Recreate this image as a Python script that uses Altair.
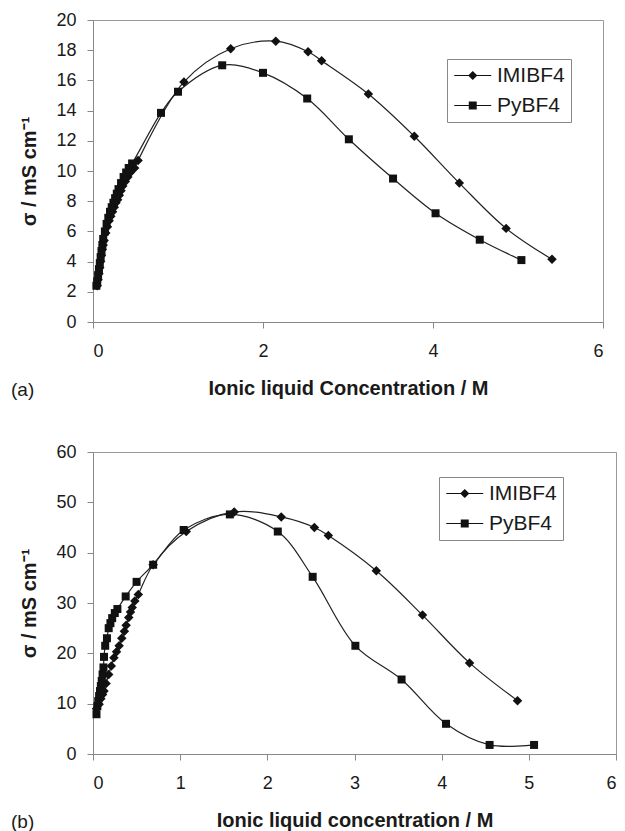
import altair as alt
import pandas as pd

FONT = "Liberation Sans"
INK = "#1a1a1a"
SERIES = ["IMIBF4", "PyBF4"]

# ---- panel (a) ----
a_imi_x = [0.05, 0.06, 0.07, 0.08, 0.09, 0.10, 0.11, 0.12, 0.13, 0.15, 0.17, 0.19, 0.21,
           0.23, 0.25, 0.27, 0.29, 0.31, 0.33, 0.35, 0.38, 0.41, 0.44, 0.49, 0.53,
           1.07, 1.62, 2.15, 2.53, 2.69, 3.24, 3.78, 4.31, 4.86, 5.40]
a_imi_y = [2.4, 2.8, 3.2, 3.6, 4.0, 4.4, 4.8, 5.1, 5.4, 5.9, 6.3, 6.7, 7.0,
           7.3, 7.6, 7.9, 8.1, 8.4, 8.7, 9.0, 9.3, 9.6, 9.9, 10.2, 10.7,
           15.9, 18.1, 18.6, 17.9, 17.3, 15.1, 12.3, 9.2, 6.2, 4.15]
a_py_x = [0.04, 0.05, 0.06, 0.07, 0.08, 0.09, 0.10, 0.11, 0.12, 0.14, 0.16, 0.18, 0.20,
          0.22, 0.24, 0.26, 0.28, 0.30, 0.33, 0.36, 0.39, 0.42, 0.46,
          0.80, 1.00, 1.52, 2.00, 2.52, 3.01, 3.53, 4.03, 4.55, 5.04]
a_py_y = [2.4, 2.7, 3.1, 3.5, 3.9, 4.3, 4.7, 5.1, 5.5, 6.0, 6.5, 6.9, 7.3,
          7.6, 7.9, 8.2, 8.5, 8.8, 9.2, 9.6, 9.9, 10.2, 10.5,
          13.85, 15.25, 17.0, 16.5, 14.8, 12.1, 9.5, 7.2, 5.45, 4.1]

# ---- panel (b) ----
b_imi_x = [0.04, 0.07, 0.09, 0.11, 0.126, 0.15, 0.18, 0.21, 0.24, 0.27, 0.30, 0.33, 0.36,
           0.38, 0.41, 0.43, 0.45, 0.48, 0.52, 0.69, 1.07, 1.62, 2.16, 2.54, 2.70,
           3.25, 3.78, 4.32, 4.87]
b_imi_y = [9.0, 9.9, 11.0, 11.8, 12.5, 14.0, 15.8, 17.5, 19.1, 20.3, 21.5, 23.0, 24.4,
           25.6, 27.1, 28.2, 29.1, 30.4, 31.7, 37.6, 44.2, 48.1, 47.1, 45.0, 43.4,
           36.4, 27.6, 18.1, 10.6]
b_py_x = [0.04, 0.05, 0.06, 0.07, 0.08, 0.09, 0.10, 0.11, 0.12, 0.126, 0.14, 0.16, 0.18,
          0.20, 0.22, 0.25, 0.28, 0.375, 0.50, 0.69, 1.04, 1.57, 2.12, 2.52, 3.01,
          3.54, 4.05, 4.55, 5.06]
b_py_y = [7.9, 9.5, 10.5, 11.5, 12.5, 13.5, 14.5, 15.8, 17.2, 19.3, 21.5, 23.0, 25.0,
          26.0, 27.0, 28.0, 28.8, 31.3, 34.2, 37.6, 44.5, 47.6, 44.2, 35.2, 21.5,
          14.8, 6.0, 1.8, 1.8]

Y_TITLE = "σ / mS cm⁻¹"
X_TITLE_A = "Ionic liquid Concentration / M"
X_TITLE_B = "Ionic liquid concentration / M"

# legend symbols: short (filled, thin) line with the marker in its middle
DIAMOND_LEG = "M-1,-0.055L3,-0.055L3,0.055L-1,0.055ZM1,-0.5L1.5,0L1,0.5L0.5,0Z"
SQUARE_LEG = ("M-1,-0.055L3,-0.055L3,0.055L-1,0.055Z"
              "M0.57,-0.43L1.43,-0.43L1.43,0.43L0.57,0.43Z")


def frame(ix, iy, px, py):
    return pd.DataFrame({
        "conc": ix + px,
        "sigma": iy + py,
        "series": [SERIES[0]] * len(ix) + [SERIES[1]] * len(px),
    })


def panel(df, ymax, ystep, xstep, w, h, xtitle, lx, ly, tag):
    x = alt.X("conc:Q", title=xtitle,
              scale=alt.Scale(domain=[0, 6], nice=False, zero=True),
              axis=alt.Axis(values=list(range(0, 7, xstep)), labelPadding=14,
                            titlePadding=18, format="d"))
    y = alt.Y("sigma:Q", title=Y_TITLE,
              scale=alt.Scale(domain=[0, ymax], nice=False, zero=True),
              axis=alt.Axis(values=list(range(0, ymax + 1, ystep)), labelPadding=11,
                            titlePadding=16, format="d"))
    base = alt.Chart(df)
    line = base.mark_line(interpolate="catmull-rom", color="#222", strokeWidth=1.2).encode(
        x=x, y=y, detail="series:N")
    pts = base.mark_point(filled=True, color="#111", opacity=1).encode(
        x=x, y=y,
        shape=alt.Shape("series:N", scale=alt.Scale(domain=SERIES, range=["diamond", "square"]),
                        legend=None),
        size=alt.Size("series:N", scale=alt.Scale(domain=SERIES, range=[90, 64]), legend=None))
    leg = base.mark_point(filled=True, color="#111", size=0).encode(
        x=x, y=y,
        shape=alt.Shape("series:N",
                        scale=alt.Scale(domain=SERIES, range=[DIAMOND_LEG, SQUARE_LEG]),
                        legend=alt.Legend(
                            title=None, orient="none", legendX=lx, legendY=ly,
                            labelFont=FONT, labelFontSize=21, labelColor=INK,
                            symbolSize=342, symbolStrokeWidth=0,
                            symbolFillColor="#111",
                            symbolOpacity=1, strokeColor="#888",
                            fillColor="white", padding=6, rowPadding=8,
                            labelOffset=23)))
    tag_df = pd.DataFrame({"tag": [tag]})
    tagm = alt.Chart(tag_df).mark_text(align="left", baseline="middle", font=FONT,
                                       fontSize=19, color=INK).encode(
        text="tag:N", x=alt.value(-82), y=alt.value(370))
    return alt.layer(line, pts, leg, tagm).resolve_scale(shape="independent").properties(
        width=w, height=h)


chart_a = panel(frame(a_imi_x, a_imi_y, a_py_x, a_py_y), 20, 2, 2, 510, 302,
                X_TITLE_A, 354, 39, "(a)")
chart_b = panel(frame(b_imi_x, b_imi_y, b_py_x, b_py_y), 60, 10, 1, 523, 302,
                X_TITLE_B, 346, 25, "(b)")

chart = alt.vconcat(chart_a, chart_b, spacing=41).properties(
    padding={"left": 2, "top": 2, "right": 0, "bottom": 0}
).configure_axis(
    labelFont=FONT, labelFontSize=18, labelColor=INK,
    titleFont=FONT, titleFontSize=20, titleFontWeight="bold", titleColor=INK,
    domainColor="#888", tickColor="#888", tickSize=6, grid=False,
).configure_legend(
    strokeColor="#888", fillColor="white", padding=6,
).configure_view(stroke="#999", strokeWidth=1)

chart.save("out.html", embed_options={"renderer": "svg", "actions": False})
